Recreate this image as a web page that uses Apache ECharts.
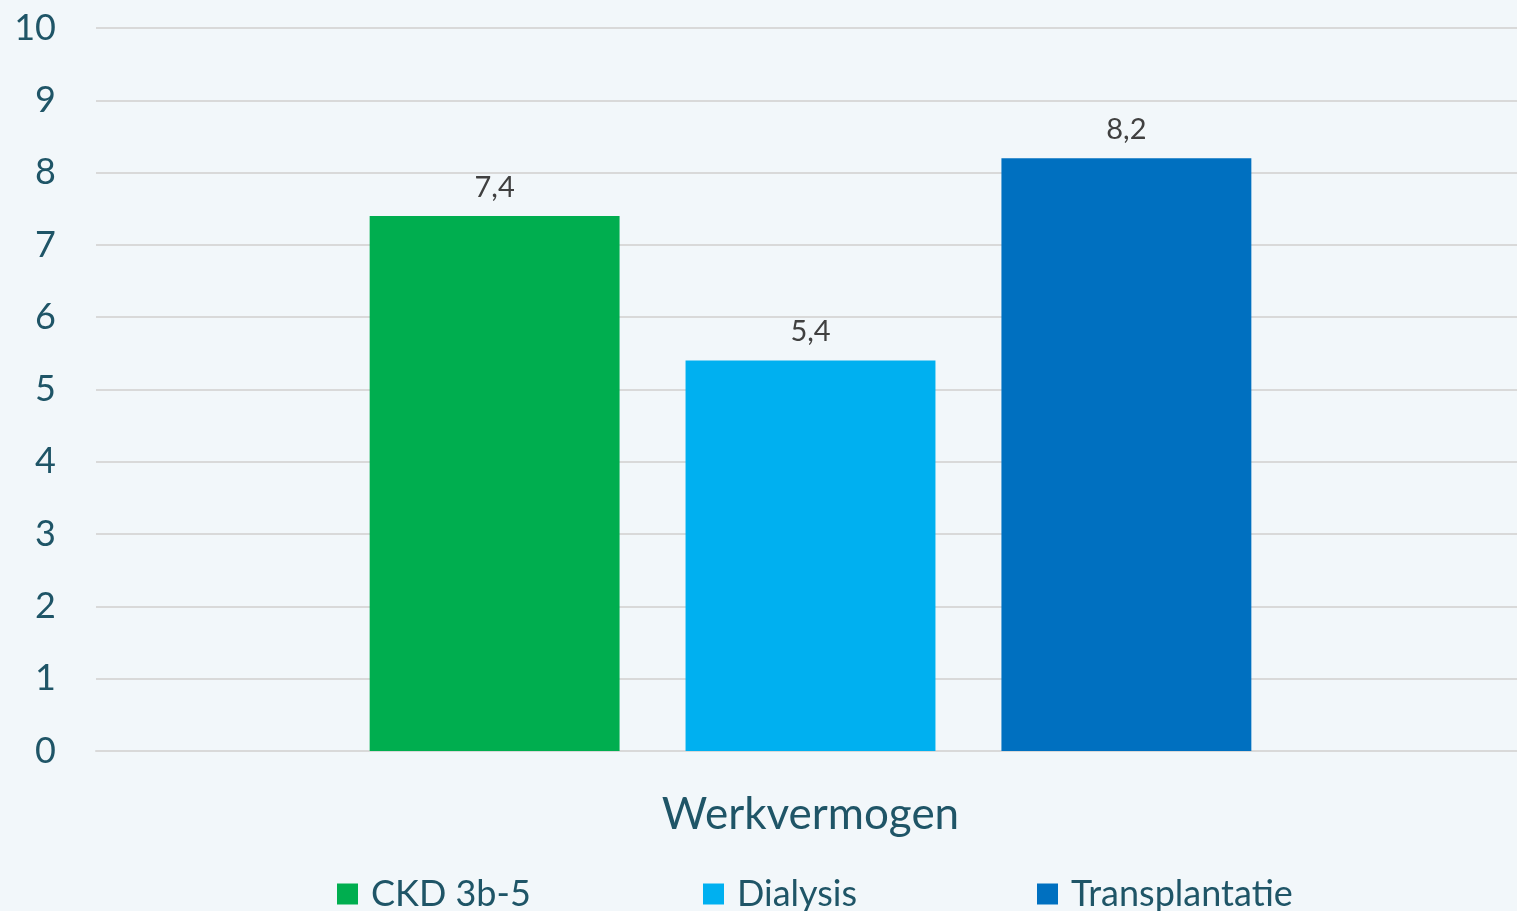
<!DOCTYPE html>
<html><head><meta charset="utf-8">
<script src="https://cdn.jsdelivr.net/npm/echarts@6/dist/echarts.min.js"></script>
<style>html,body{margin:0;padding:0;background:#f2f7fa}#c{width:1517px;height:911px}</style>
</head><body><div id="c"></div>
<script>
const categories = ['Werkvermogen'];
const seriesNames = ['CKD 3b-5', 'Dialysis', 'Transplantatie'];
const ckdValues = [7.4];
const dialysisValues = [5.4];
const transplantValues = [8.2];
const yTicks = [0, 1, 2, 3, 4, 5, 6, 7, 8, 9, 10];

const colors = ['#00ae4f', '#00b0f0', '#0070c0'];
const valuesList = [ckdValues, dialysisValues, transplantValues];
const legendLefts = [332, 698, 1032];
const font = 'Lato, "Open Sans", sans-serif';
const chart = echarts.init(document.getElementById('c'));
chart.setOption({
  backgroundColor: '#f2f7fa',
  animation: false,
  color: colors,
  grid: {left: 96, width: 1429, top: 28, bottom: 160, containLabel: false, outerBoundsMode: 'none'},
  legend: seriesNames.map((n, i) => ({
    bottom: -6, left: legendLefts[i], itemWidth: 21, itemHeight: 21,
    icon: 'rect',
    textStyle: {fontFamily: font, fontSize: 36, color: '#1f5567', padding: [0, 0, 0, 8]},
    data: [n]
  })),
  xAxis: {
    type: 'category', data: categories,
    axisLine: {show: true, lineStyle: {color: '#d9d9d9', width: 2}},
    axisTick: {show: false},
    axisLabel: {fontFamily: font, fontSize: 44, color: '#1f5567', margin: 42}
  },
  yAxis: {
    type: 'value', min: yTicks[0], max: yTicks[yTicks.length - 1], interval: 1,
    axisLine: {show: false}, axisTick: {show: false},
    splitLine: {lineStyle: {color: '#d9d9d9', width: 2}},
    axisLabel: {fontFamily: font, fontSize: 36, color: '#1f5567', margin: 40}
  },
  series: seriesNames.map((n, i) => ({
    name: n, type: 'bar', data: valuesList[i],
    barGap: '26.4%', barCategoryGap: '38.3%',
    label: {show: true, position: 'top', distance: 14, fontFamily: font, fontSize: 29, color: '#404040',
      formatter: p => String(p.value).replace('.', ',')}
  }))
});
</script></body></html>
